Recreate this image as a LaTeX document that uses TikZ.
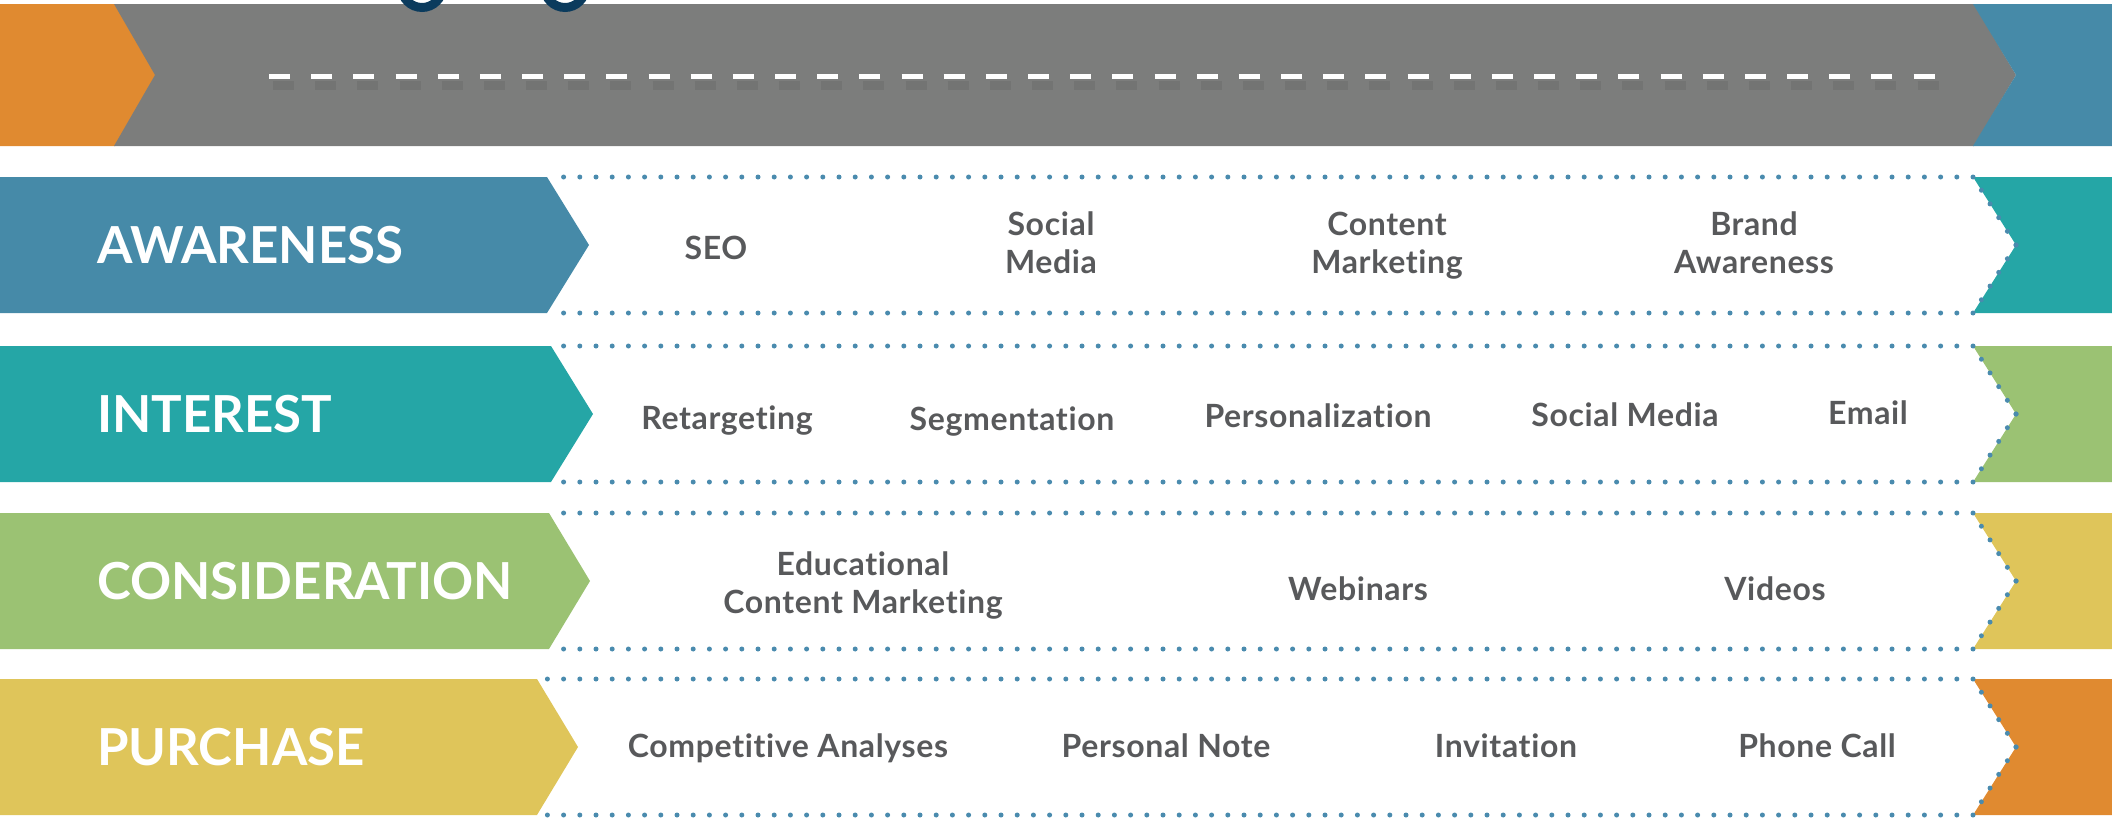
\documentclass[tikz,border=0pt]{standalone}
\usepackage{fontspec}
\setmainfont{Lato}
\newfontfamily\itemfont{Lato}[LetterSpace=2.0,Ligatures=NoCommon]
\definecolor{cOrange}{HTML}{E08A30}
\definecolor{cGray}{HTML}{7C7D7C}
\definecolor{cBlue}{HTML}{468AA8}
\definecolor{cTeal}{HTML}{25A6A6}
\definecolor{cGreen}{HTML}{9BC273}
\definecolor{cYellow}{HTML}{DFC55A}
\definecolor{cNavy}{HTML}{0B3B5D}
\definecolor{dotblue}{HTML}{4A8BAE}
\definecolor{itemgray}{HTML}{58595B}
\begin{document}
\begin{tikzpicture}[x=1pt,y=-1pt,
  stagelabel/.style={anchor=west,inner sep=0pt,text=white,font=\fontsize{51}{51}\selectfont\bfseries},
  itemtxt/.style={inner sep=0pt,text=itemgray,font=\itemfont\fontsize{32}{38}\selectfont\bfseries,align=center},
  dotline/.style={draw=dotblue,line width=5pt,line cap=round,dash pattern=on 0pt off 16.2pt},
]
\useasboundingbox (0,0) rectangle (2112,817);
% top bar
\fill[cOrange] (0,4) -- (115,4) -- (156,75) -- (115,146) -- (0,146) -- cycle;
\fill[cGray] (114,4) -- (1974,4) -- (2016,75) -- (1974,146) -- (114,146) -- (155,75) -- cycle;
\fill[cBlue] (1973,4) -- (2112,4) -- (2112,146) -- (1973,146) -- (2016,75) -- cycle;
\coordinate (d1) at (269,76);
\coordinate (d2) at (1937,76);
\draw[black,opacity=0.07,line width=9pt,dash pattern=on 21pt off 21.17pt] ([shift={(4,9)}]d1) -- ([shift={(4,9)}]d2);
\draw[white,line width=5pt,dash pattern=on 21pt off 21.17pt] (d1) -- (d2);
% rings cut at the top
\fill[cNavy,even odd rule] (422,-13) circle (25pt) (422,-13) circle (16pt);
\fill[cNavy,even odd rule] (565,-13) circle (25pt) (565,-13) circle (16pt);
% rows
\foreach \t/\b/\lx/\tx/\c/\n/\lab/\id in {177/313/547/589/cBlue/cTeal/AWARENESS/aw,
  346/482/551/593/cTeal/cGreen/INTEREST/in,
  513/649/549/590/cGreen/cYellow/CONSIDERATION/co,
  679/815/537/578/cYellow/cOrange/PURCHASE/pu}{
  \pgfmathsetmacro\m{(\t+\b)/2}
  \fill[\c] (0,\t) -- (\lx,\t) -- (\tx,\m) -- (\lx,\b) -- (0,\b) -- cycle;
  \fill[\n] (1973,\t) -- (2112,\t) -- (2112,\b) -- (1973,\b) -- (2016,\m) -- cycle;
  \draw[dotline] (1973,\t) -- (\lx+2,\t);
  \draw[dotline] (1973,\b) -- (\lx+2,\b);
  \draw[dotline] (2016,\m) -- (1973,\t);
  \draw[dotline] (2016,\m) -- (1973,\b);
  \node[stagelabel] (\id) at (97,\m) {\lab};
}
% row 1
\node[itemtxt,anchor=base] (seo) at (716,259) {SEO};
\node[itemtxt,text depth=0pt] (sm1) at (1051,243) {Social\\Media};
\node[itemtxt,text depth=0pt] (cm1) at (1387,243) {Content\\Marketing};
\node[itemtxt,text depth=0pt] (ba) at (1754,243) {Brand\\Awareness};
% row 2
\node[itemtxt,anchor=base] (ret) at (727,429) {Retargeting};
\node[itemtxt,anchor=base] (seg) at (1012,430) {Segmentation};
\node[itemtxt,anchor=base] (per) at (1318,427) {Personalization};
\node[itemtxt,anchor=base] (sm2) at (1625,426) {Social Media};
\node[itemtxt,anchor=base] (em) at (1868,424) {Email};
% row 3
\node[itemtxt,text depth=0pt] (ecm) at (863,583) {Educational\\Content Marketing};
\node[itemtxt,anchor=base] (web) at (1358,600) {Webinars};
\node[itemtxt,anchor=base] (vid) at (1775,600) {Videos};
% row 4
\node[itemtxt,anchor=base] (ca) at (788,757) {Competitive Analyses};
\node[itemtxt,anchor=base] (pn) at (1166,757) {Personal Note};
\node[itemtxt,anchor=base] (inv) at (1506,757) {Invitation};
\node[itemtxt,anchor=base] (pc) at (1817,757) {Phone Call};
\end{tikzpicture}
\end{document}
